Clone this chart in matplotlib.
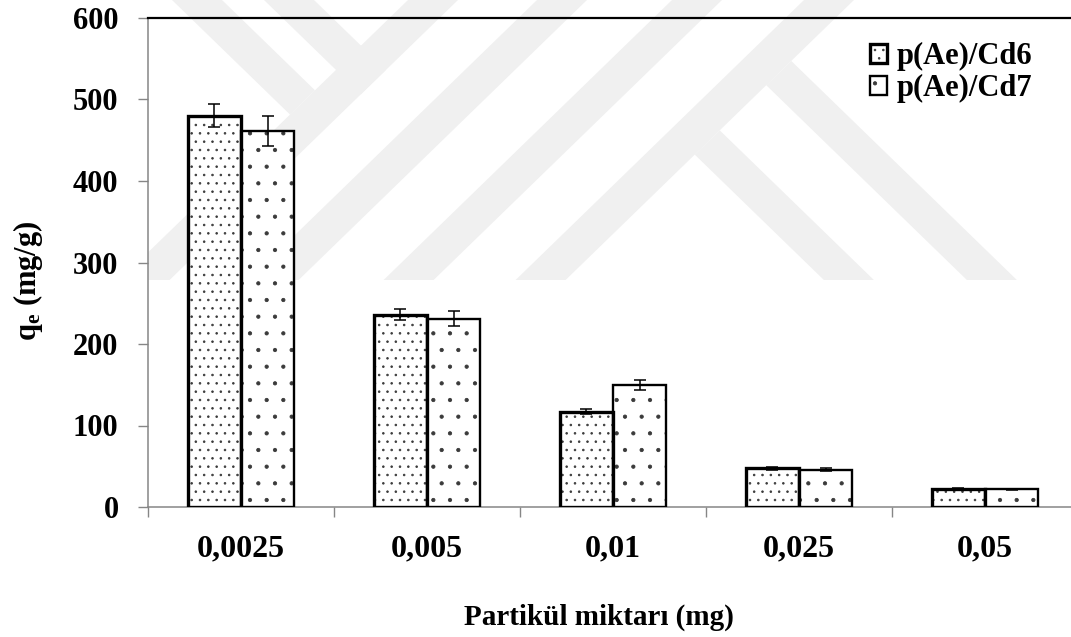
import matplotlib
matplotlib.use('Agg')
import matplotlib.pyplot as plt
import numpy as np
from matplotlib.patches import Polygon
from matplotlib.transforms import Bbox, TransformedBbox
from matplotlib.legend_handler import HandlerTuple

# ---- data ----
categories = ['0,0025', '0,005', '0,01', '0,025', '0,05']
cd6 = [480, 236, 117, 47.5, 22.5]
cd6_err = [14, 7, 3.5, 1.5, 0.8]
cd7 = [461, 231, 150, 46, 21.5]
cd7_err = [18.5, 9, 6, 1.5, 1]
series_labels = ['p(Ae)/Cd6', 'p(Ae)/Cd7']
x_label = 'Partikül miktarı (mg)'
y_label = 'q$_\\mathrm{e}$ (mg/g)'
y_ticks = [0, 100, 200, 300, 400, 500, 600]

# ---- style ----
W, H = 1071, 637
plt.rcParams['font.family'] = 'Liberation Serif'
plt.rcParams['font.weight'] = 'bold'
plt.rcParams['axes.labelweight'] = 'bold'
plt.rcParams['mathtext.fontset'] = 'custom'
plt.rcParams['mathtext.rm'] = 'Liberation Serif:bold'
plt.rcParams['mathtext.it'] = 'Liberation Serif:bold'
plt.rcParams['mathtext.bf'] = 'Liberation Serif:bold'
plt.rcParams['hatch.linewidth'] = 0.6

fig = plt.figure(figsize=(W / 100, H / 100), dpi=100)
L, R, T, B = 148, 1078, 18, 507
ax = fig.add_axes([L / W, 1 - B / H, (R - L) / W, (B - T) / H])
ax.set_facecolor('none')

# ---- background watermark (decoration, pixel geometry) ----
S = 1.03      # slope of the diagonal bands
YB = 280      # bottom of watermark
BW = 50       # band width


def slash_band(a):
    return [(a, 0), (a + BW, 0), (a + BW - S * YB, YB), (a - S * YB, YB)]


def back_band(c, d):
    yl = (d - c) / (2 * S)
    yr = (d - c - BW) / (2 * S)
    return [(c + S * yl, yl), (c + BW + S * yr, yr),
            (c + BW + S * YB, YB), (c + S * YB, YB)]


def back_band_to_left(c, d):
    yr = (d - c - BW) / (2 * S)
    yl = (d - c) / (2 * S)
    return [(c, 0), (c + BW, 0), (c + BW + S * yr, yr), (c + S * yl, yl)]


polys = [slash_band(408), slash_band(537), slash_band(672), slash_band(804),
         back_band_to_left(172, 408), back_band_to_left(264, 408 + BW),
         back_band(535.5, 804 + BW), back_band(678.5, 804 + BW)]
clip = TransformedBbox(Bbox([[L / W, 0], [1, 1]]), fig.transFigure)
for poly in polys:
    p = Polygon([(px / W, 1 - py / H) for px, py in poly], closed=True,
                transform=fig.transFigure, facecolor='#f0f0f0',
                edgecolor='none', zorder=-10)
    p.set_clip_box(clip)
    fig.patches.append(p)

# ---- bars ----
x = np.arange(len(categories))
bw = 0.2876
dot_col = '#3a3a3a'
h6 = ax.bar(x - bw / 2, cd6, bw, color='white', edgecolor=dot_col,
            linewidth=0, hatch='..', zorder=3)
e6 = ax.bar(x - bw / 2, cd6, bw, fill=False, edgecolor='black',
            linewidth=2.4, zorder=3.5)
h7 = ax.bar(x + bw / 2, cd7, bw, color='white', edgecolor=dot_col,
            linewidth=0, hatch='.', zorder=3)
e7 = ax.bar(x + bw / 2, cd7, bw, fill=False, edgecolor='black',
            linewidth=1.7, zorder=3.5)
ax.errorbar(x - bw / 2, cd6, yerr=cd6_err, fmt='none', ecolor='black',
            elinewidth=1.1, capsize=4, capthick=1.1, zorder=4)
ax.errorbar(x + bw / 2, cd7, yerr=cd7_err, fmt='none', ecolor='black',
            elinewidth=1.1, capsize=4, capthick=1.1, zorder=4)

# ---- axes ----
ax.set_xlim(-0.5, len(categories) - 0.5)
ax.set_ylim(y_ticks[0], y_ticks[-1])
ax.set_yticks(y_ticks)
ax.tick_params(axis='y', direction='out', length=7.2, width=1,
               color='#868686', pad=14, labelsize=22)
ax.set_xticks(x)
ax.set_xticklabels(categories)
ax.set_xticks(np.arange(len(categories) + 1) - 0.5, minor=True)
ax.tick_params(axis='x', which='major', length=0, pad=20, labelsize=23)
ax.tick_params(axis='x', which='minor', direction='out', length=7.2,
               width=1, color='#868686')

ax.spines['right'].set_visible(False)
ax.spines['top'].set_color('black')
ax.spines['top'].set_linewidth(1.6)
for s in ('left', 'bottom'):
    ax.spines[s].set_color('#868686')
    ax.spines[s].set_linewidth(1.1)

ax.set_ylabel(y_label, fontsize=22, fontweight='bold', va='center')
ax.yaxis.set_label_coords((28 - L) / (R - L), (B - 281) / (B - T))
ax.set_xlabel(x_label, fontsize=21, fontweight='bold', va='center')
ax.xaxis.set_label_coords((599 - L) / (R - L), (B - 617) / (B - T))

ax.legend(handles=[(h6, e6), (h7, e7)], labels=series_labels,
          handler_map={tuple: HandlerTuple(ndivide=1)}, loc='upper left',
          bbox_to_anchor=(870 / W, 1 - 42 / H), bbox_transform=fig.transFigure,
          frameon=False, fontsize=22, handlelength=0.56, handleheight=0.56,
          handletextpad=0.3, labelspacing=0.1, borderpad=0, borderaxespad=0)

fig.savefig('out.png', dpi=100)
